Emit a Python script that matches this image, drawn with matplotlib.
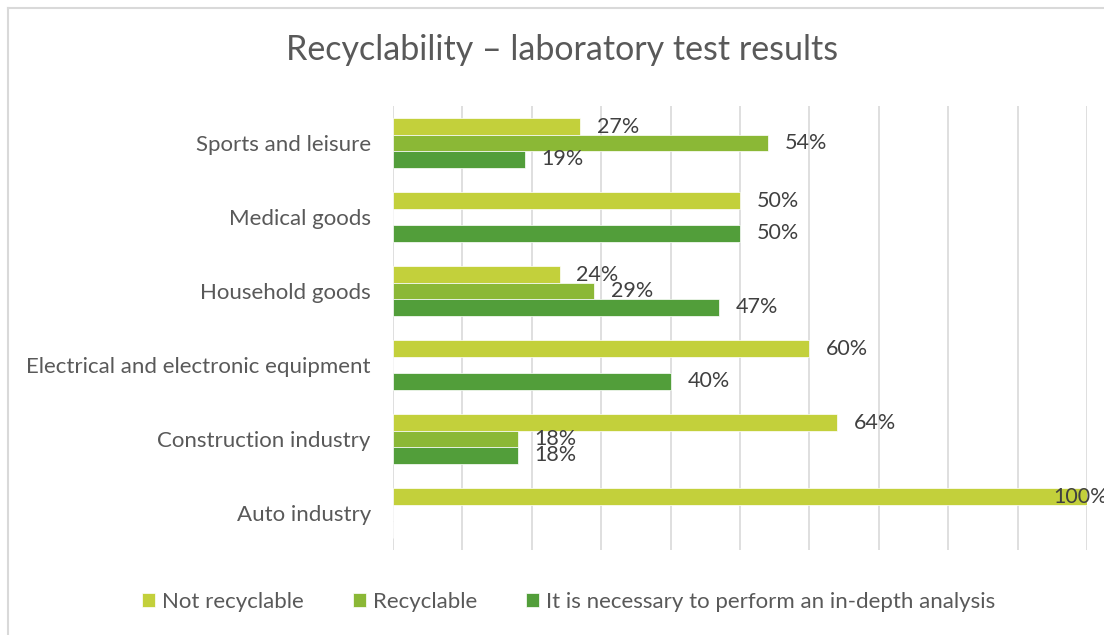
import matplotlib.pyplot as plt
from matplotlib.lines import Line2D
import numpy as np

plt.rcParams['font.family'] = ['Lato', 'DejaVu Sans']

categories = ['Sports and leisure', 'Medical goods', 'Household goods',
              'Electrical and electronic equipment', 'Construction industry',
              'Auto industry']
not_recyclable = [27, 50, 24, 60, 64, 100]
recyclable = [54, 0, 29, 0, 18, 0]
in_depth = [19, 50, 47, 40, 18, 0]
series_names = ['Not recyclable', 'Recyclable',
                'It is necessary to perform an in-depth analysis']
colors = ['#C3D03B', '#8BB836', '#529E3A']

W, H = 1104, 635
fig = plt.figure(figsize=(W / 100, H / 100), dpi=100)
ax = fig.add_axes([393 / W, 1 - 550 / H, (1087 - 393) / W, 444 / H])

y = np.arange(len(categories))
bh = 0.222
series = [not_recyclable, recyclable, in_depth]
for i, (vals, name, c) in enumerate(zip(series, series_names, colors)):
    pos = y + (i - 1) * bh
    ax.barh(pos, vals, height=bh, color=c, label=name, zorder=3,
            edgecolor='white', linewidth=0.5)
    for p, v in zip(pos, vals):
        if v == 0:
            continue
        off = 12 if v < 100 else -24
        ax.annotate(f'{v}%', (v, p), xytext=(off, 0), textcoords='offset points',
                    va='center', ha='left', fontsize=15.5, color='#404040',
                    annotation_clip=False)

ax.set_ylim(len(categories) - 0.5, -0.5)
ax.set_xlim(0, 100)
ax.set_xticks(np.arange(0, 101, 10))
ax.set_xticklabels([])
ax.tick_params(axis='x', length=0)
ax.tick_params(axis='y', length=0, pad=16, labelsize=16, labelcolor='#595959')
ax.set_yticks(y)
ax.set_yticklabels(categories)
ax.grid(axis='x', color='#D9D9D9', linewidth=1.2, zorder=0)
for s in ax.spines.values():
    s.set_visible(False)

fig.text(0.509, 1 - 50 / H, 'Recyclability – laboratory test results',
         ha='center', va='center', fontsize=24.5, color='#595959')

fig.legend(loc='center', bbox_to_anchor=(0.515, 1 - 602 / H), ncol=3,
           frameon=False, fontsize=16, labelcolor='#595959',
           handlelength=0.6, handleheight=0.6, handletextpad=0.3,
           columnspacing=2.2)

# chart area border (top and left edges visible)
fig.add_artist(Line2D([8 / W, 1], [1 - 7.5 / H, 1 - 7.5 / H], color='#D9D9D9', lw=1.5))
fig.add_artist(Line2D([8 / W, 8 / W], [0, 1 - 7.5 / H], color='#D9D9D9', lw=1.5))

fig.savefig('out.png', dpi=100)
